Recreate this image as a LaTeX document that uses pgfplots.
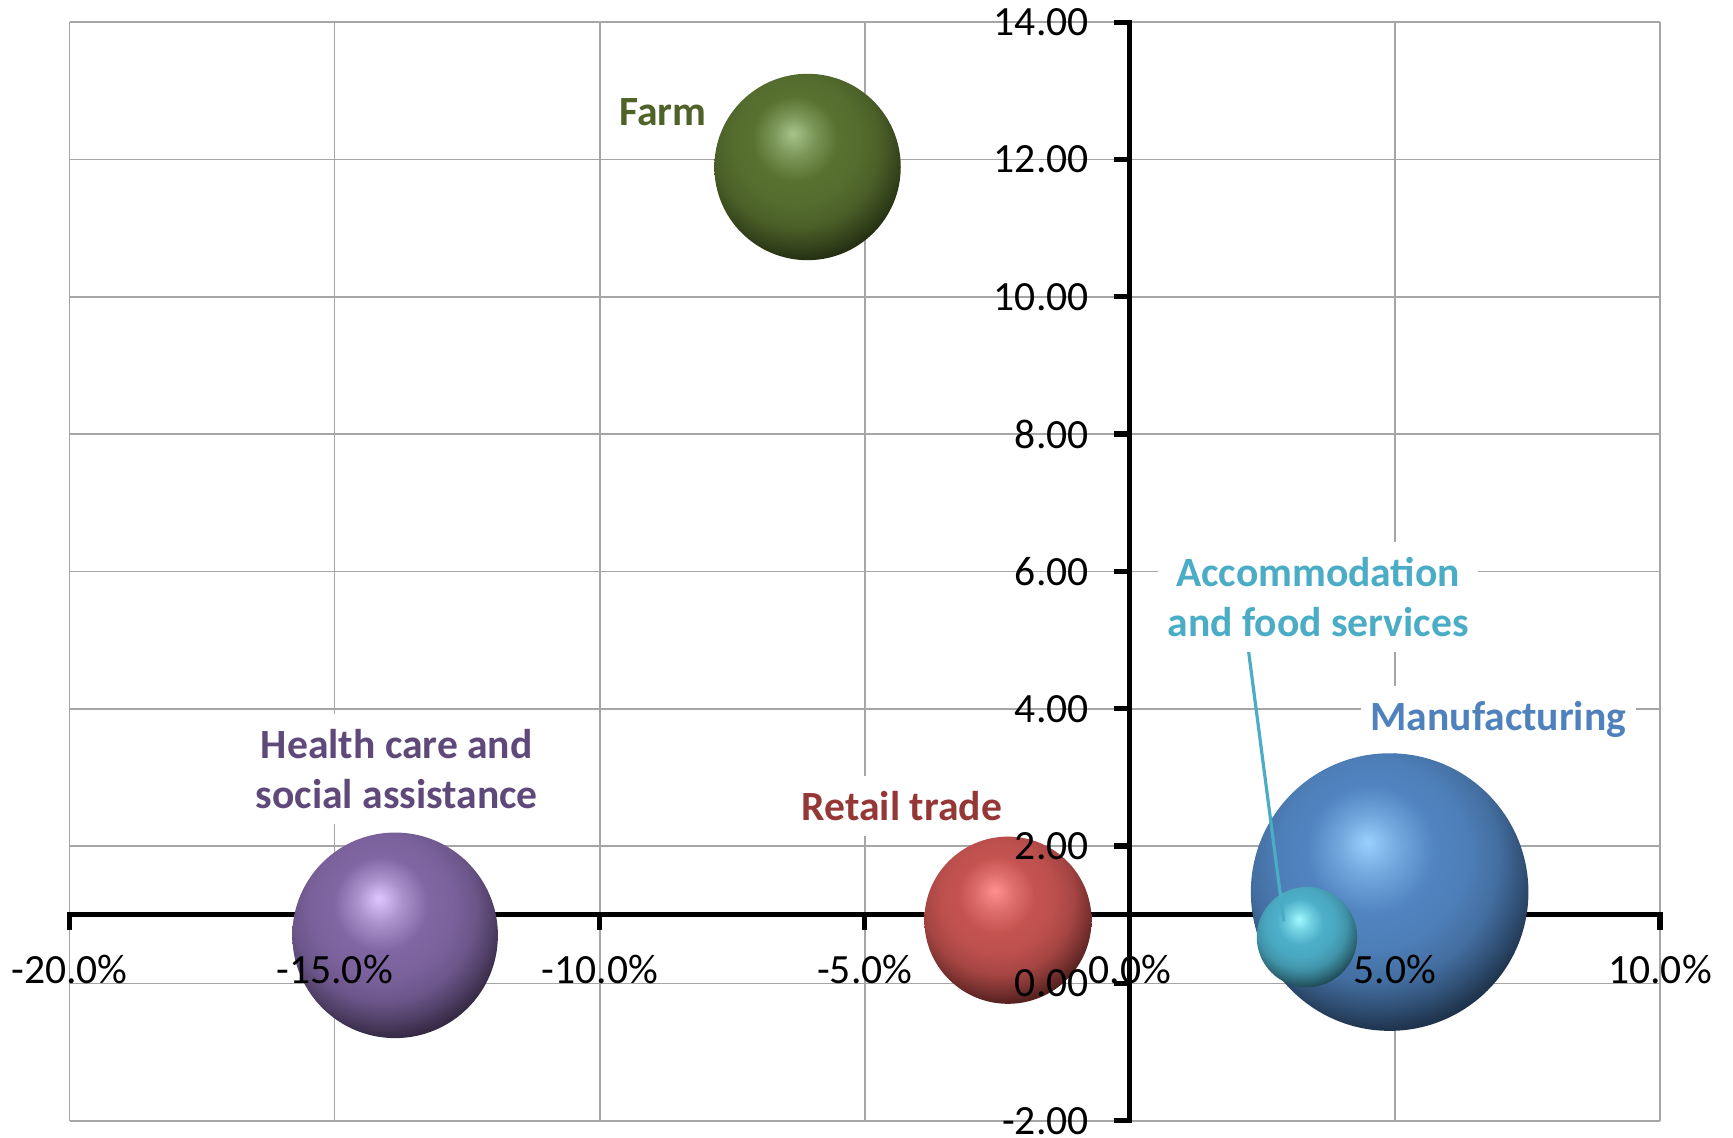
\documentclass[border=0pt]{standalone}
\usepackage{pgfplots}
\pgfplotsset{compat=1.18}
\usepackage{fontspec}
\setmainfont{Carlito}

\definecolor{gridgray}{RGB}{166,166,166}
\definecolor{farmtxt}{HTML}{4F6228}
\definecolor{healthtxt}{HTML}{5F497A}
\definecolor{retailtxt}{HTML}{953735}
\definecolor{manutxt}{HTML}{4F81BD}
\definecolor{accomtxt}{HTML}{4BACC6}

\definecolor{farmhl}{HTML}{A8C48A}\definecolor{farmbase}{HTML}{587130}\definecolor{farmdark}{HTML}{111707}
\definecolor{healthhl}{HTML}{E0C6FF}\definecolor{healthbase}{HTML}{8066A3}\definecolor{healthdark}{HTML}{18121F}
\definecolor{retailhl}{HTML}{FF9090}\definecolor{retailbase}{HTML}{C45350}\definecolor{retaildark}{HTML}{280D0C}
\definecolor{manuhl}{HTML}{9AD0FF}\definecolor{manubase}{HTML}{5184C0}\definecolor{manudark}{HTML}{0B141F}
\definecolor{accomhl}{HTML}{A0FAFF}\definecolor{accombase}{HTML}{4DAFC9}\definecolor{accomdark}{HTML}{0F252B}

\newcommand\defball[4]{%
  \pgfdeclareradialshading{#1}{\pgfqpoint{-8bp}{18bp}}{%
    color(0bp)=(#2); color(4bp)=(#2!80!#3); color(11bp)=(#2!45!#3); color(23bp)=(#3);
    color(34bp)=(#3!95!#4); color(45bp)=(#3!80!#4); color(53bp)=(#3!55!#4);
    color(60bp)=(#3!30!#4); color(67bp)=(#3!15!#4); color(74bp)=(#4); color(150bp)=(#4)}%
  \pgfdeclareplotmark{#1}{%
    \begin{pgfscope}%
    \pgfpathcircle{\pgfpointorigin}{\pgfplotmarksize}%
    \pgfusepath{clip}%
    \pgfmathsetmacro\ballscale{\pgfplotmarksize/50.1875pt}%
    \pgftransformscale{\ballscale}%
    \pgflowlevelsynccm
    \pgfuseshading{#1}%
    \end{pgfscope}}%
}
\defball{farmball}{farmhl}{farmbase}{farmdark}
\defball{healthball}{healthhl}{healthbase}{healthdark}
\defball{retailball}{retailhl}{retailbase}{retaildark}
\defball{manuball}{manuhl}{manubase}{manudark}
\defball{accomball}{accomhl}{accombase}{accomdark}

\begin{document}
\begin{tikzpicture}[
  tl/.style={font=\fontsize{10.4}{12.5}\selectfont, inner sep=0pt, text=black},
  lbl/.style={font=\fontsize{10.4}{12.5}\selectfont\bfseries, fill=white, inner xsep=2.4pt, inner ysep=3.8pt, align=center},
  ax/.style={line width=1.3pt, line join=miter, line cap=rect}
]
\begin{axis}[
  set layers,
  scale only axis, width=397.6pt, height=274.65pt,
  xmin=-20, xmax=10, ymin=-2, ymax=14,
  xtick={-20,-15,-10,-5,0,5,10}, ytick={-2,0,2,4,6,8,10,12,14},
  xticklabels={}, yticklabels={},
  grid=major, grid style={line width=0.4pt, draw=gridgray},
  axis line style={draw=none}, tick style={draw=none},
  clip=false,
]
\coordinate (sw) at (rel axis cs:0,0);
\coordinate (ne) at (rel axis cs:1,1);

% axis lines (horizontal axis crosses at 1.0, vertical at 0)
\begin{pgfonlayer}{axis lines}
\draw[ax] ([yshift=-3.25pt]axis cs:-20,1) -- (axis cs:-20,1) -- (axis cs:10,1) -- ([yshift=-3.25pt]axis cs:10,1);
\pgfplotsinvokeforeach{-15,-10,-5,0,5}{\draw[ax] (axis cs:#1,1) -- ([yshift=-3.25pt]axis cs:#1,1);}
\draw[ax] ([xshift=-3.25pt]axis cs:0,14) -- (axis cs:0,14) -- (axis cs:0,-2) -- ([xshift=-3.25pt]axis cs:0,-2);
\pgfplotsinvokeforeach{0,2,4,6,8,10,12}{\draw[ax] (axis cs:0,#1) -- ([xshift=-3.25pt]axis cs:0,#1);}
\end{pgfonlayer}

% bubbles
\addplot[only marks, mark=farmball, mark size=23.3pt] coordinates {(-6.08,11.89)};
\addplot[only marks, mark=healthball, mark size=25.7pt] coordinates {(-13.86,0.70)};
\addplot[only marks, mark=retailball, mark size=20.9pt] coordinates {(-2.30,0.92)};
\addplot[only marks, mark=manuball, mark size=34.7pt] coordinates {(4.90,1.33)};
\addplot[only marks, mark=accomball, mark size=12.55pt] coordinates {(3.34,0.675)};

\begin{pgfonlayer}{axis foreground}
% leader line
\draw[accomtxt, line width=0.8pt] (axis cs:2.24,4.83) -- (axis cs:2.905,0.90);

% data labels
\node[lbl, text=farmtxt, anchor=base] at (axis cs:-8.81,12.49) {Farm};
\node[lbl, text=healthtxt, anchor=center] at (axis cs:-13.83,3.125) {Health care and\\social assistance};
\node[lbl, text=retailtxt, anchor=base] at (axis cs:-4.30,2.37) {Retail trade};
\node[lbl, text=manutxt, anchor=base] at (axis cs:6.95,3.68) {Manufacturing};
\node[lbl, text=accomtxt, anchor=center] at (axis cs:3.55,5.627) {Accommodation\\and food services};

% tick labels
\node[tl, anchor=base] at (axis cs:-20,0) {-20.0\%};
\node[tl, anchor=base] at (axis cs:-15,0) {-15.0\%};
\node[tl, anchor=base] at (axis cs:-10,0) {-10.0\%};
\node[tl, anchor=base] at (axis cs:-5,0) {-5.0\%};
\node[tl, anchor=base] at (axis cs:0,0) {0.0\%};
\node[tl, anchor=base] at (axis cs:5,0) {5.0\%};
\node[tl, anchor=base] at (axis cs:10,0) {10.0\%};
\node[tl, anchor=east, xshift=-10.1pt] at (axis cs:0,14) {14.00};
\node[tl, anchor=east, xshift=-10.1pt] at (axis cs:0,12) {12.00};
\node[tl, anchor=east, xshift=-10.1pt] at (axis cs:0,10) {10.00};
\node[tl, anchor=east, xshift=-10.1pt] at (axis cs:0,8) {8.00};
\node[tl, anchor=east, xshift=-10.1pt] at (axis cs:0,6) {6.00};
\node[tl, anchor=east, xshift=-10.1pt] at (axis cs:0,4) {4.00};
\node[tl, anchor=east, xshift=-10.1pt] at (axis cs:0,2) {2.00};
\node[tl, anchor=east, xshift=-10.1pt] at (axis cs:0,0) {0.00};
\node[tl, anchor=east, xshift=-10.1pt] at (axis cs:0,-2) {-2.00};
\end{pgfonlayer}
\end{axis}
\pgfresetboundingbox
\path ([shift={(-17.4pt,-4.075pt)}]sw) rectangle ([shift={(18.25pt,5.525pt)}]ne);
\end{tikzpicture}
\end{document}
